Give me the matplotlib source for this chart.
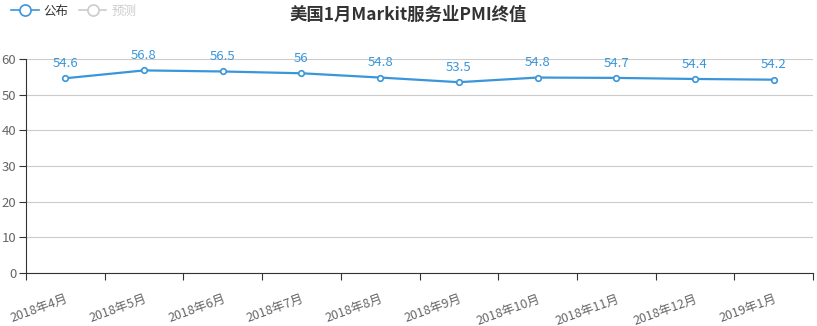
import matplotlib
matplotlib.use("Agg")
import matplotlib.pyplot as plt
import numpy as np

plt.rcParams['font.family'] = ['Noto Sans CJK SC', 'DejaVu Sans']

# 数据
months = ["2018年4月", "2018年5月", "2018年6月", "2018年7月", "2018年8月",
          "2018年9月", "2018年10月", "2018年11月", "2018年12月", "2019年1月"]
published = [54.6, 56.8, 56.5, 56, 54.8, 53.5, 54.8, 54.7, 54.4, 54.2]
forecast = []

line_color = '#3A96DA'
fig = plt.figure(figsize=(8.17, 3.26), dpi=100)
ax = fig.add_axes([26 / 817, 1 - 273 / 326, 787 / 817, 214 / 326])

x = np.arange(len(months))
ax.plot(x, published, color=line_color, lw=1.6, marker='o', ms=4,
        mfc='white', mec=line_color, mew=1.2, label='公布', zorder=3)
ax.plot([], [], color='#cccccc', lw=1.2, marker='o', ms=8,
        mfc='white', mec='#cccccc', mew=1.2, label='预测')

for xi, v in zip(x, published):
    ax.annotate(f"{v:g}", (xi, v), xytext=(0, 6), textcoords='offset points',
                ha='center', va='bottom', fontsize=9.5, color=line_color)

ax.set_xlim(-0.5, len(months) - 0.5)
ax.set_ylim(0, 60)
ax.set_yticks(np.arange(0, 61, 10))
ax.yaxis.grid(True, color='#cccccc', lw=0.8)
ax.set_axisbelow(True)

ax.set_xticks(np.arange(-0.5, len(months), 1))
ax.set_xticklabels([])
ax.set_xticks(x, minor=True)
ax.set_xticklabels(months, minor=True, rotation=20, ha='right',
                   rotation_mode='anchor', fontsize=9, color='#666666')
ax.tick_params(axis='x', which='minor', length=0, pad=14)
ax.tick_params(axis='x', which='major', length=5, color='#333333', direction='out')
ax.tick_params(axis='y', length=5, pad=2, color='#333333', labelsize=9.5, labelcolor='#666666')

for s in ['top', 'right']:
    ax.spines[s].set_visible(False)
ax.spines['left'].set_color('#333333')
ax.spines['bottom'].set_color('#333333')

fig.text(0.5, 1 - 15 / 326, "美国1月Markit服务业PMI终值", ha='center', va='center',
         fontsize=12.5, fontweight='bold', color='#333333')

leg = fig.legend(loc='upper left', bbox_to_anchor=(0.0, 1.02), ncol=2, frameon=False,
                 fontsize=9, handlelength=2.2, columnspacing=0.8, handletextpad=0.4)
for t, c in zip(leg.get_texts(), ['#333333', '#cccccc']):
    t.set_color(c)
for h in leg.legend_handles:
    h.set_markersize(8)
    h.set_linewidth(1.2)

fig.savefig("out.png", dpi=100)
